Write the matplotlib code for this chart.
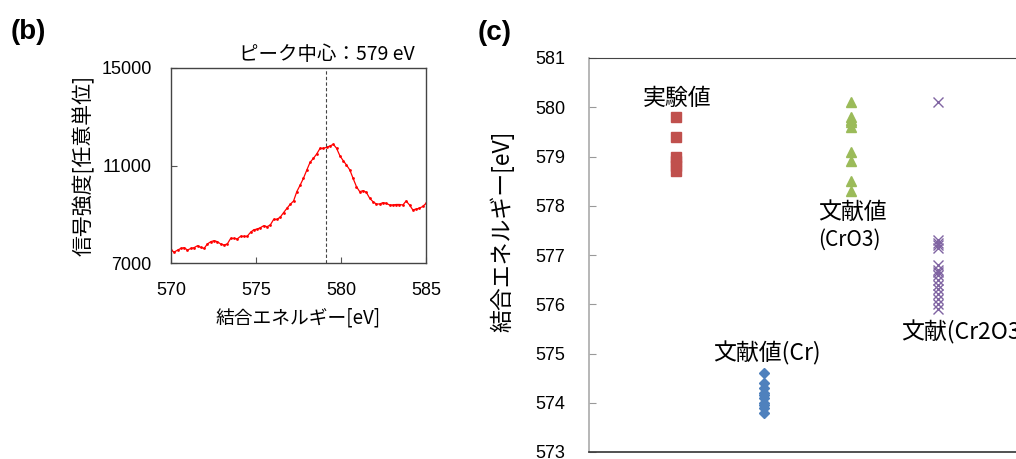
import matplotlib
matplotlib.use("Agg")
import matplotlib.pyplot as plt

plt.rcParams['font.family'] = ['Liberation Sans', 'Noto Sans CJK JP', 'DejaVu Sans']

# ---------------- data: panel (b) spectrum ----------------
energy = [570.00, 570.19, 570.39, 570.58, 570.78, 570.97, 571.17, 571.36, 571.56, 571.75,
          571.95, 572.14, 572.34, 572.53, 572.73, 572.92, 573.12, 573.31, 573.51, 573.70,
          573.90, 574.09, 574.29, 574.48, 574.68, 574.87, 575.06, 575.26, 575.45, 575.65,
          575.84, 576.04, 576.23, 576.43, 576.62, 576.82, 577.01, 577.21, 577.40, 577.60,
          577.79, 577.99, 578.18, 578.38, 578.57, 578.77, 578.96, 579.16, 579.35, 579.55,
          579.74, 579.94, 580.13, 580.32, 580.52, 580.71, 580.91, 581.10, 581.30, 581.49,
          581.69, 581.88, 582.08, 582.27, 582.47, 582.66, 582.86, 583.05, 583.25, 583.44,
          583.64, 583.83, 584.03, 584.22, 584.42, 584.61, 584.81, 585.00]
intensity = [7530, 7450, 7530, 7600, 7630, 7530, 7600, 7630, 7710, 7640,
             7600, 7780, 7875, 7915, 7875, 7780, 7740, 7780, 8010, 8010,
             7990, 8095, 8095, 8095, 8260, 8365, 8390, 8450, 8530, 8490,
             8560, 8790, 8790, 8885, 9065, 9245, 9405, 9545, 9927, 10200,
             10474, 10816, 11131, 11295, 11473, 11706, 11706, 11747, 11802, 11870,
             11706, 11390, 11200, 11022, 10816, 10474, 10131, 9927, 9968, 9900,
             9653, 9517, 9421, 9421, 9476, 9448, 9380, 9380, 9400, 9400,
             9380, 9544, 9380, 9183, 9210, 9250, 9320, 9448]
peak_center = 579.1
b_xticks = [570, 575, 580, 585]
b_yticks = [7000, 11000, 15000]

# ---------------- data: panel (c) binding energies ----------------
c_labels = ["実験値", "文献値(Cr)", "文献値\n(CrO3)", "文献(Cr2O3)"]
exp_vals = [579.8, 579.4, 579.0, 578.9, 578.8, 578.7]
cr_vals = [574.6, 574.4, 574.3, 574.2, 574.15, 574.1, 574.0, 573.95, 573.9, 573.8]
cro3_vals = [580.1, 579.8, 579.75, 579.7, 579.6, 579.1, 578.9, 578.5, 578.3]
cr2o3_vals = [580.1, 577.3, 577.25, 577.2, 577.15, 576.8, 576.7, 576.65, 576.6,
              576.5, 576.4, 576.3, 576.2, 576.1, 576.0, 575.9]
c_yticks = [573, 574, 575, 576, 577, 578, 579, 580, 581]

W, H = 1016, 459
fig = plt.figure(figsize=(W / 100, H / 100), dpi=100)

def ax_rect(l, t, r, b):
    return [l / W, 1 - b / H, (r - l) / W, (b - t) / H]

jp = ['Noto Sans CJK JP', 'DejaVu Sans']

# ---------------- panel (b) ----------------
axb = fig.add_axes(ax_rect(171, 68, 426, 263))
axb.plot(energy, intensity, color='#ff0000', lw=0.9, marker='o', ms=2.0,
         markeredgewidth=0)
axb.axvline(peak_center, color='#444444', lw=0.8, ls=(0, (3, 2)))
axb.set_xlim(570, 585)
axb.set_ylim(7000, 15000)
axb.set_xticks(b_xticks)
axb.set_yticks(b_yticks)
axb.tick_params(direction='in', length=4, width=0.8, color='#555555',
                labelsize=13, pad=14)
for s in axb.spines.values():
    s.set_color('#444444')
    s.set_linewidth(1.0)
axb.set_xlabel("結合エネルギー[eV]", fontsize=13.5, labelpad=6, family=jp)
axb.set_ylabel("信号強度[任意単位]", fontsize=15, family=jp)
axb.yaxis.set_label_coords(-(171 - 95) / 255, 0.5)
fig.text(415 / W, 1 - 55 / H, "ピーク中心：579 eV", ha='right', va='center',
         fontsize=14, family=['Noto Sans CJK JP', 'Liberation Sans'])
fig.text(11 / W, 1 - 32 / H, "(b)", ha='left', va='center', fontsize=20,
         fontweight='bold', family='Liberation Sans')

# ---------------- panel (c) ----------------
px_per_unit = 87.3
left_c = 589
axc = fig.add_axes(ax_rect(left_c, 58, left_c + 5 * px_per_unit, 452))
axc.plot([1] * len(exp_vals), exp_vals, ls='none', marker='s', ms=7.8,
         color='#C0504D')
axc.plot([2] * len(cr_vals), cr_vals, ls='none', marker='D', ms=5.5,
         color='#4F81BD')
axc.plot([3] * len(cro3_vals), cro3_vals, ls='none', marker='^', ms=7.5,
         color='#9BBB59')
axc.plot([4] * len(cr2o3_vals), cr2o3_vals, ls='none', marker='x', ms=6.5,
         mew=1.0, color='#8064A2')
axc.set_xlim(0, 5)
axc.set_ylim(573, 581)
axc.set_xticks([])
axc.set_yticks(c_yticks)
axc.tick_params(axis='y', direction='in', length=5, width=0.8, color='#999999',
                labelsize=13, pad=17)
axc.spines['left'].set_color('#aaaaaa')
axc.spines['left'].set_linewidth(1.2)
axc.spines['top'].set_color('#444444')
axc.spines['bottom'].set_color('#333333')
axc.spines['bottom'].set_linewidth(1.2)
axc.spines['right'].set_visible(False)
axc.set_ylabel("結合エネルギー[eV]", fontsize=16.5, family=jp)
axc.yaxis.set_label_coords(-(left_c - 514) / (5 * px_per_unit), 0.56)

axc.text(0.62, 580.17, c_labels[0], ha='left', va='center', fontsize=16.5, family=jp)
axc.text(1.42, 575.01, c_labels[1], ha='left', va='center', fontsize=16.5, family=jp)
axc.text(2.62, 577.87, c_labels[2].split("\n")[0], ha='left', va='center',
         fontsize=16.5, family=jp)
axc.text(2.62, 577.30, c_labels[2].split("\n")[1], ha='left', va='center',
         fontsize=15, family=jp)
axc.text(3.58, 575.44, c_labels[3], ha='left', va='center', fontsize=16.5, family=jp)
fig.text(478 / W, 1 - 33 / H, "(c)", ha='left', va='center', fontsize=20,
         fontweight='bold', family='Liberation Sans')

fig.savefig("out.png", dpi=100)
